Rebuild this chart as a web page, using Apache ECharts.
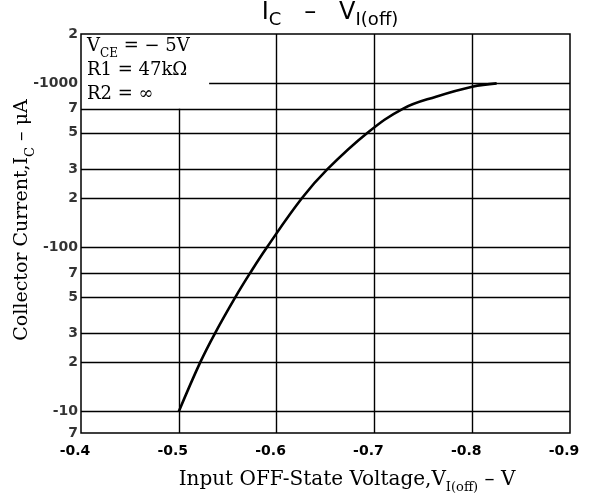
<!DOCTYPE html>
<html>
<head>
<meta charset="utf-8">
<script src="https://cdn.jsdelivr.net/npm/echarts@6/dist/echarts.min.js"></script>
<style>
  html, body { margin: 0; padding: 0; background: #fff; }
  #main { width: 589px; height: 497px; }
</style>
</head>
<body>
<div id="main"></div>
<script>
// curve: I_C (magnitude, uA) vs V_I(off)
var voltage = [-0.5, -0.522, -0.537, -0.558, -0.573, -0.590, -0.626, -0.652, -0.693, -0.729, -0.763, -0.8, -0.825];
var current = [10, 20, 30, 50, 70, 100, 200, 300, 500, 700, 830, 955, 1000];

// y tick labels drawn at the left edge
var yTickValues = [2000, 1000, 700, 500, 300, 200, 100, 70, 50, 30, 20, 10, 7.4];
var yTickLabels = ['2', '-1000', '7', '5', '3', '2', '-100', '7', '5', '3', '2', '-10', '7'];

// grid lines
var yGridFull = [700, 500, 300, 200, 100, 70, 50, 30, 20, 10];
var xGridFull = [-0.6, -0.7, -0.8];

var myChart = echarts.init(document.getElementById('main'));

var serif = '"DejaVu Serif", serif';
var sans = '"DejaVu Sans", sans-serif';

// grid line segments
var gridLines = [];
yGridFull.forEach(function (v) {
    gridLines.push([{ coord: [-0.4, v] }, { coord: [-0.9, v] }]);
});
xGridFull.forEach(function (v) {
    gridLines.push([{ coord: [v, 7.4] }, { coord: [v, 2000] }]);
});
// the parameter box hides part of these two
gridLines.push([{ coord: [-0.531, 1000] }, { coord: [-0.9, 1000] }]);
gridLines.push([{ coord: [-0.5, 7.4] }, { coord: [-0.5, 700] }]);

var tickData = yTickValues.map(function (v, i) {
    return { value: [-0.4, v], name: yTickLabels[i] };
});

var curveData = voltage.map(function (v, i) { return [v, current[i]]; });

function subRich(size, subSize, family) {
    return {
        n: { fontSize: size, fontFamily: family, color: '#000', lineHeight: size + 5, verticalAlign: 'top' },
        s: { fontSize: subSize, fontFamily: family, color: '#000', lineHeight: subSize, verticalAlign: 'bottom' }
    };
}

var option = {
    animation: false,
    backgroundColor: '#fff',
    grid: {
        left: 81, right: 19, top: 34, bottom: 64,
        show: true, borderColor: '#000', borderWidth: 1.5
    },
    xAxis: {
        type: 'value',
        min: -0.9, max: -0.4, interval: 0.1,
        inverse: true,
        axisLine: { show: false },
        axisTick: { show: false },
        splitLine: { show: false },
        axisLabel: {
            margin: 11,
            color: '#000',
            fontWeight: 'bold',
            fontSize: 14,
            fontFamily: sans,
            padding: [0, 12, 0, 0],
            formatter: function (v) { return '-' + Math.abs(v).toFixed(1); }
        }
    },
    yAxis: {
        type: 'log',
        logBase: 10,
        min: 7.4, max: 2000,
        axisLine: { show: false },
        axisTick: { show: false },
        splitLine: { show: false },
        axisLabel: { show: false }
    },
    series: [
        {
            name: 'ticks',
            type: 'scatter',
            symbolSize: 0,
            clip: false,
            silent: true,
            data: tickData,
            label: {
                show: true,
                position: 'left',
                distance: 3,
                color: '#000',
                fontWeight: 'bold',
                fontSize: 14,
                fontFamily: sans,
                formatter: function (p) { return p.name; }
            },
            markLine: {
                silent: true,
                symbol: 'none',
                label: { show: false },
                lineStyle: { color: '#000', width: 1.4, type: 'solid' },
                data: gridLines
            }
        },
        {
            name: 'IC',
            type: 'line',
            smooth: 0.4,
            showSymbol: false,
            data: curveData,
            lineStyle: { color: '#000', width: 2.6 },
            z: 5
        }
    ],
    graphic: [
        {
            type: 'text', x: 330, y: 15,
            style: {
                text: '{n|I}{s|C}{n|   –   V}{s|I(off)}',
                align: 'center', verticalAlign: 'middle',
                rich: subRich(24, 18, sans)
            }
        },
        {
            type: 'text', x: 87, y: 37,
            style: { text: '{n|V}{s|CE}{n| = − 5V}', rich: subRich(18, 12, serif) }
        },
        {
            type: 'text', x: 87, y: 61,
            style: { text: '{n|R1 = 47kΩ}', rich: subRich(18, 12, serif) }
        },
        {
            type: 'text', x: 87, y: 85,
            style: { text: '{n|R2 = ∞}', rich: subRich(18, 12, serif) }
        },
        {
            type: 'text', x: 25, y: 220, rotation: Math.PI / 2,
            style: {
                text: '{n|Collector Current,I}{s|C}{n| – μA}',
                align: 'center', verticalAlign: 'middle',
                rich: subRich(19, 13, serif)
            }
        },
        {
            type: 'text', x: 347, y: 482,
            style: {
                text: '{n|Input OFF-State Voltage,V}{s|I(off)}{n| – V}',
                align: 'center', verticalAlign: 'middle',
                rich: subRich(20, 13, serif)
            }
        }
    ]
};

myChart.setOption(option);
</script>
</body>
</html>
